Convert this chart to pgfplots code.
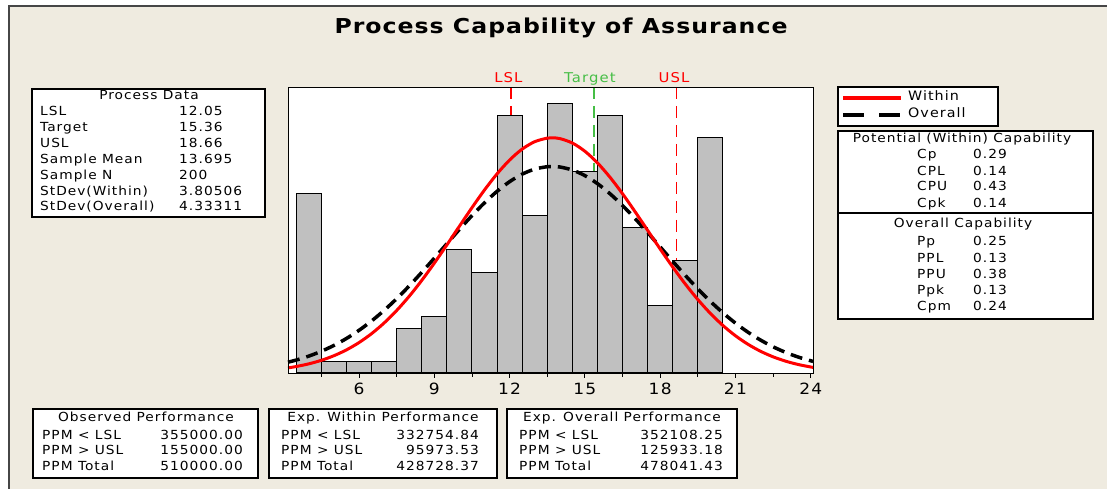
\documentclass[border=0pt]{standalone}
\usepackage{pgfplots}
\pgfplotsset{compat=1.18}
\usepackage{fontspec}
\setmainfont{DejaVu Sans}
\newfontfamily\vf[LetterSpace=8,FakeStretch=1.1]{DejaVu Sans}
\newfontfamily\vfb[LetterSpace=5,FakeStretch=1.15]{DejaVu Sans Bold}
\definecolor{beige}{RGB}{239,235,224}
\definecolor{framegray}{RGB}{70,70,70}
\definecolor{barfill}{RGB}{192,192,192}
\definecolor{tgtgreen}{RGB}{70,190,70}
\newcommand{\bx}{\vf\fontsize{12.5}{14}\selectfont}
\begin{document}
\begin{tikzpicture}[x=1pt,y=1pt]
\useasboundingbox (0,0) rectangle (1107,489);
\fill[white] (0,0) rectangle (1107,489);
\fill[beige] (9,0) rectangle (1107,483);
\draw[framegray, line width=2pt] (9,0) -- (9,483) -- (1107,483);
% title
\node[font=\vfb\fontsize{20.5}{23}\selectfont] at (561,461) {Process Capability of Assurance};

\begin{axis}[
  at={(288pt,116pt)}, anchor=south west,
  width=525pt, height=286pt, scale only axis,
  xmin=3.17, xmax=24.09, ymin=0, ymax=25.5,
  axis background/.style={fill=white},
  clip=false,
  ytick=\empty,
  xtick={6,9,12,15,18,21,24},
  minor xtick={4.5,7.5,10.5,13.5,16.5,19.5,22.5},
  xtick pos=bottom,
  tick align=outside,
  major tick length=5pt, minor tick length=4pt,
  every tick/.style={black, line width=0.8pt},
  axis line style={black, line width=0.9pt},
  /pgf/number format/assume math mode=true,
  xticklabel style={font=\vf\fontsize{15.5}{17}\selectfont, black, yshift=-1.5pt},
]
% spec lines
\addplot[red, line width=1.5pt, dash pattern=on 12pt off 7pt] coordinates {(12.05,25.5) (12.05,0)};
\addplot[tgtgreen, line width=1.5pt, dash pattern=on 12pt off 7pt] coordinates {(15.36,25.5) (15.36,0)};
\addplot[red, line width=1.5pt, dash pattern=on 12pt off 7pt] coordinates {(18.66,25.5) (18.66,0)};
% histogram
\addplot[ybar, bar width=1, fill=barfill, draw=black, line width=1pt] coordinates {
(4,16) (5,1) (6,1) (7,1) (8,4) (9,5) (10,11) (11,9) (12,23) (13,14) (14,24)
(15,18) (16,23) (17,13) (18,6) (19,10) (20,21)};
% overall (dashed)
\addplot[black, line width=3.5pt, dash pattern=on 12pt off 7pt, smooth] coordinates {
(3.17,0.964) (3.5,1.156) (4,1.507) (4.5,1.938) (5,2.459) (5.5,3.079) (6,3.805) (6.5,4.639) (7,5.582) (7.5,6.627) (8,7.763) (8.5,8.975) (9,10.238) (9.5,11.525) (10,12.801) (10.5,14.032) (11,15.176) (11.5,16.197) (12,17.058) (12.5,17.727) (13,18.179) (13.5,18.395) (13.695,18.414) (14,18.368) (14.5,18.099) (15,17.598) (15.5,16.884) (16,15.984) (16.5,14.933) (17,13.767) (17.5,12.523) (18,11.241) (18.5,9.957) (19,8.703) (19.5,7.506) (20,6.388) (20.5,5.365) (21,4.446) (21.5,3.636) (22,2.934) (22.5,2.336) (23,1.836) (23.5,1.423) (24,1.089) (24.09,1.036)};
% within (solid red)
\addplot[red, line width=3pt, smooth] coordinates {
(3.17,0.457) (3.5,0.579) (4,0.816) (4.5,1.131) (5,1.541) (5.5,2.062) (6,2.713) (6.5,3.509) (7,4.460) (7.5,5.572) (8,6.842) (8.5,8.257) (9,9.795) (9.5,11.420) (10,13.086) (10.5,14.740) (11,16.318) (11.5,17.755) (12,18.989) (12.5,19.960) (13,20.622) (13.5,20.942) (13.695,20.969) (14,20.902) (14.5,20.505) (15,19.771) (15.5,18.738) (16,17.454) (16.5,15.980) (17,14.381) (17.5,12.719) (18,11.057) (18.5,9.447) (19,7.934) (19.5,6.549) (20,5.314) (20.5,4.237) (21,3.321) (21.5,2.558) (22,1.937) (22.5,1.441) (23,1.054) (23.5,0.758) (24,0.536) (24.09,0.502)};
\draw[black, line width=0.9pt] (rel axis cs:0,0) rectangle (rel axis cs:1,1);
\node[red, font=\vf\fontsize{13.5}{15}\selectfont, anchor=base] at ([yshift=4pt]axis cs:11.95,25.5) {LSL};
\node[tgtgreen, font=\vf\fontsize{13.5}{15}\selectfont, anchor=base] at ([yshift=4pt]axis cs:15.2,25.5) {Target};
\node[red, font=\vf\fontsize{13.5}{15}\selectfont, anchor=base] at ([yshift=4pt]axis cs:18.55,25.5) {USL};
\end{axis}

% Process Data box
\draw[black, fill=white, line width=1.2pt] (32,400) rectangle (265,272);
\node[font=\bx, anchor=mid] at (149,392) {Process Data};
\foreach \lab/\val/\yy in {LSL/12.05/376, Target/15.36/360, USL/18.66/344, Sample Mean/13.695/328, Sample N/200/312, StDev(Within)/3.80506/296, StDev(Overall)/4.33311/281}{
  \node[font=\bx, anchor=mid west, inner sep=0pt] at (40,\yy) {\lab};
  \node[font=\bx, anchor=mid west, inner sep=0pt] at (179,\yy) {\val};
}

% legend
\draw[black, fill=white, line width=1.2pt] (838,402) rectangle (998,363);
\draw[red, line width=3.5pt] (843,391) -- (901,391);
\draw[black, line width=3.5pt, dash pattern=on 21pt off 15pt] (843,374) -- (901,374);
\node[font=\vf\fontsize{13}{15}\selectfont, anchor=mid west, inner sep=0pt] at (908,391) {Within};
\node[font=\vf\fontsize{13}{15}\selectfont, anchor=mid west, inner sep=0pt] at (908,374) {Overall};

% capability box
\draw[black, fill=white, line width=1.2pt] (838,358) rectangle (1093,170);
\draw[black, line width=1.2pt] (838,276) -- (1093,276);
\node[font=\bx, anchor=mid] at (962,349) {Potential (Within) Capability};
\foreach \lab/\val/\yy in {Cp/0.29/333, CPL/0.14/316, CPU/0.43/301, Cpk/0.14/284}{
  \node[font=\bx, anchor=mid west, inner sep=0pt] at (917,\yy) {\lab};
  \node[font=\bx, anchor=mid west, inner sep=0pt] at (973,\yy) {\val};
}
\node[font=\bx, anchor=mid] at (963,264) {Overall Capability};
\foreach \lab/\val/\yy in {Pp/0.25/246, PPL/0.13/229, PPU/0.38/213, Ppk/0.13/197, Cpm/0.24/181}{
  \node[font=\bx, anchor=mid west, inner sep=0pt] at (917,\yy) {\lab};
  \node[font=\bx, anchor=mid west, inner sep=0pt] at (973,\yy) {\val};
}

% bottom boxes
\draw[black, fill=white, line width=1.2pt] (33,80) rectangle (258,11);
\node[font=\bx, anchor=mid] at (146,70) {Observed Performance};
\node[font=\bx, anchor=mid west, inner sep=0pt] at (42,52) {PPM < LSL};
\node[font=\bx, anchor=mid west, inner sep=0pt] at (42,37) {PPM > USL};
\node[font=\bx, anchor=mid west, inner sep=0pt] at (42,21) {PPM Total};
\node[font=\bx, anchor=mid east, inner sep=0pt] at (243,52) {355000.00};
\node[font=\bx, anchor=mid east, inner sep=0pt] at (243,37) {155000.00};
\node[font=\bx, anchor=mid east, inner sep=0pt] at (243,21) {510000.00};

\draw[black, fill=white, line width=1.2pt] (269,80) rectangle (497,11);
\node[font=\bx, anchor=mid] at (383,70) {Exp. Within Performance};
\node[font=\bx, anchor=mid west, inner sep=0pt] at (281,52) {PPM < LSL};
\node[font=\bx, anchor=mid west, inner sep=0pt] at (281,37) {PPM > USL};
\node[font=\bx, anchor=mid west, inner sep=0pt] at (281,21) {PPM Total};
\node[font=\bx, anchor=mid east, inner sep=0pt] at (479,52) {332754.84};
\node[font=\bx, anchor=mid east, inner sep=0pt] at (479,37) {95973.53};
\node[font=\bx, anchor=mid east, inner sep=0pt] at (479,21) {428728.37};

\draw[black, fill=white, line width=1.2pt] (507,80) rectangle (737,11);
\node[font=\bx, anchor=mid] at (622,70) {Exp. Overall Performance};
\node[font=\bx, anchor=mid west, inner sep=0pt] at (519,52) {PPM < LSL};
\node[font=\bx, anchor=mid west, inner sep=0pt] at (519,37) {PPM > USL};
\node[font=\bx, anchor=mid west, inner sep=0pt] at (519,21) {PPM Total};
\node[font=\bx, anchor=mid east, inner sep=0pt] at (723,52) {352108.25};
\node[font=\bx, anchor=mid east, inner sep=0pt] at (723,37) {125933.18};
\node[font=\bx, anchor=mid east, inner sep=0pt] at (723,21) {478041.43};
\end{tikzpicture}
\end{document}
